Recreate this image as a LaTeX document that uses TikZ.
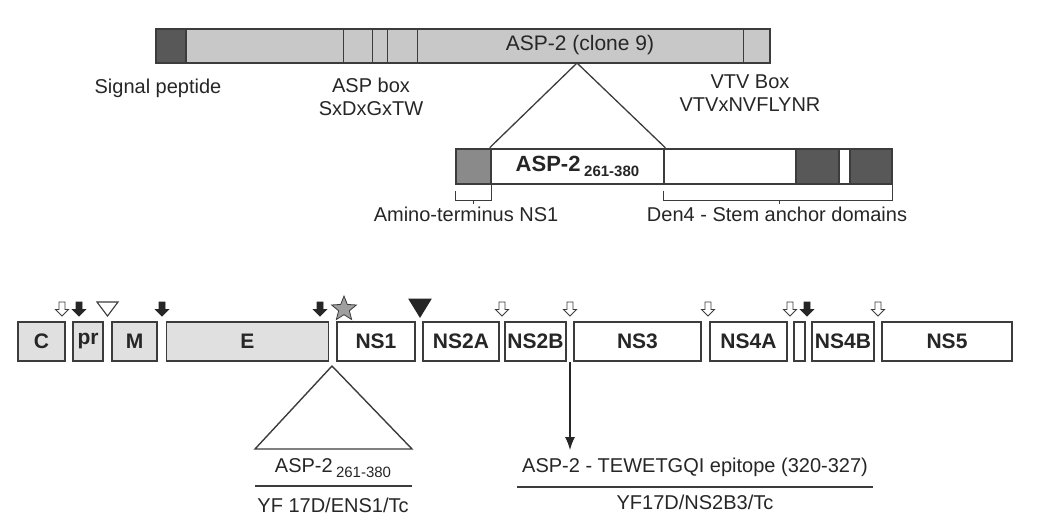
\documentclass[tikz,border=0pt]{standalone}
\usepackage{fontspec}
\setmainfont{Liberation Sans}
\usetikzlibrary{arrows.meta,shapes.geometric}
\definecolor{FrameGrey}{HTML}{3C3C3C}
\definecolor{BarGrey}{HTML}{C8C8C8}
\definecolor{DarkGrey}{HTML}{585858}
\definecolor{MidGrey}{HTML}{8A8A8A}
\definecolor{ProtGrey}{HTML}{E0E0E0}

\begin{document}
\begin{tikzpicture}[x=1pt, y=-1pt,
  lbl/.style={font=\fontsize{20}{23}\selectfont, align=center, inner sep=0, text=black!85},
  seg/.style={draw=FrameGrey, line width=1.4pt, inner sep=0, minimum height=35},
  gene/.style={draw=FrameGrey, line width=1.6pt, inner sep=0, minimum height=39, font=\bfseries\fontsize{21}{24}\selectfont, text=black!85},
  pics/openarr/.style={code={\draw[FrameGrey, fill=white, line width=0.9pt] (-3,0) -- (3,0) -- (3,7.5) -- (6.5,7.5) -- (0,14) -- (-6.5,7.5) -- (-3,7.5) -- cycle;}},
  pics/blackarr/.style={code={\draw[black!85, fill=black!85, line width=0.9pt] (-3,0) -- (3,0) -- (3,7.5) -- (6.5,7.5) -- (0,14) -- (-6.5,7.5) -- (-3,7.5) -- cycle;}},
  arrow/.style={-{Latex[length=13pt, width=10pt]}, line width=1.3pt, draw=black!85}
]
\useasboundingbox (0,0) rectangle (1042,528);

% ASP-2 clone 9
\node[seg, fill=BarGrey, minimum width=614, minimum height=34] (clone9) at (463,46) {};
\node[seg, fill=DarkGrey, minimum width=30, minimum height=34] (sigpep) at (171,46) {};
\foreach \x in {343,372,387,417,743}
  \draw[FrameGrey, line width=1pt] (\x,29) -- (\x,63);
\node[lbl, font=\fontsize{21}{24}\selectfont] (clonetxt) at (580,45) {ASP-2 (clone 9)};
\node[lbl] (sigtxt) at (158,88) {Signal peptide};
\node[lbl] (boxtxt) at (371,97) {ASP box\\SxDxGxTW};
\node[lbl] (vtvtxt) at (750,93) {VTV Box\\VTVxNVFLYNR};

% insert construct
\node[seg, fill=MidGrey, minimum width=35] (nterm) at (473.5,166.5) {};
\node[seg, fill=white, minimum width=132] (stem) at (730,166.5) {};
\node[seg, fill=DarkGrey, minimum width=43] (tma) at (817.5,166.5) {};
\node[seg, fill=white, minimum width=11] (tmgap) at (844.5,166.5) {};
\node[seg, fill=DarkGrey, minimum width=42] (tmb) at (871,166.5) {};
\node[seg, fill=white, minimum width=173, line width=2.6pt, font=\bfseries\fontsize{22}{24}\selectfont, text=black!85] (asp) at (577.5,166.5)
  {ASP-2\,\raisebox{-5pt}{\fontsize{15}{17}\selectfont 261-380}};
\coordinate (apex) at (577,63);
\draw[FrameGrey, line width=1.3pt] (asp.north west) -- (apex) -- (asp.north east);

\draw[FrameGrey, line width=1pt] (nterm.south west) ++(0,6) -- ++(0,10) -| ([yshift=6]nterm.south east);
\draw[FrameGrey, line width=1pt] (473.5,200) -- (473.5,204);
\draw[FrameGrey, line width=1pt] (stem.south west) ++(0,6) -- ++(0,10) -| ([yshift=6]tmb.south east);
\draw[FrameGrey, line width=1pt] (779,200) -- (779,204);
\node[lbl] (ntermtxt) at (466,214) {Amino-terminus NS1};
\node[lbl] (stemtxt) at (777,214) {Den4 - Stem anchor domains};

% YF 17D polyprotein
\node[gene, fill=ProtGrey, minimum width=47] (C) at (41.5,341.5) {C};
\node[gene, fill=ProtGrey, minimum width=30] (pr) at (88,341.5) {pr};
\node[gene, fill=ProtGrey, minimum width=45] (M) at (134.5,341.5) {M};
\node[gene, fill=ProtGrey, minimum width=162] (E) at (247.5,341.5) {E};
\node[gene, fill=white, minimum width=78] (NS1) at (376,341.5) {NS1};
\node[gene, fill=white, minimum width=76] (NS2A) at (461,341.5) {NS2A};
\node[gene, fill=white, minimum width=61] (NS2B) at (535.5,341.5) {NS2B};
\node[gene, fill=white, minimum width=127] (NS3) at (637.5,341.5) {NS3};
\node[gene, fill=white, minimum width=77] (NS4A) at (748.5,341.5) {NS4A};
\node[gene, fill=white, minimum width=11] (k2) at (799.5,341.5) {};
\node[gene, fill=white, minimum width=62] (NS4B) at (843,341.5) {NS4B};
\node[gene, fill=white, minimum width=130] (NS5) at (947,341.5) {NS5};

% cleavage sites
\foreach \x in {62,502,570,708,790,878}
  \pic at (\x,302) {openarr};
\foreach \x in {79,162,320,807}
  \pic at (\x,302) {blackarr};
\draw[FrameGrey, fill=white, line width=1.1pt] (97,302) -- (118,302) -- (107.5,316) -- cycle;
\draw[black!85, fill=black!85, line width=1pt] (409,299) -- (431,299) -- (420,317) -- cycle;
\node[star, star points=5, star point ratio=2.3, draw=FrameGrey, fill=gray!75, line width=0.8pt, minimum size=26, inner sep=0] (site) at (344,309) {};

% ENS1 insertion
\coordinate (ins) at (332,366);
\coordinate (insl) at (255,449);
\coordinate (insr) at (412,449);
\draw[FrameGrey, line width=1.4pt] (ins) -- (insl) -- (insr) -- cycle;
\node[lbl] (enstxt) at (333,468) {ASP-2\,\raisebox{-5pt}{\fontsize{15}{17}\selectfont 261-380}};
\draw[FrameGrey, line width=1.4pt] (255,486) -- (412,486);
\node[lbl] (enslbl) at (333,505) {YF 17D/ENS1/Tc};

% NS2B3 epitope
\node[lbl] (epitxt) at (695,467) {ASP-2 - TEWETGQI epitope (320-327)};
\coordinate (cut) at (570,362);
\coordinate (cutend) at (570,450);
\draw[arrow] (cut) -- (cutend);
\draw[FrameGrey, line width=1.4pt] (517,487) -- (873,487);
\node[lbl] (epilbl) at (695,502) {YF17D/NS2B3/Tc};
\end{tikzpicture}
\end{document}
